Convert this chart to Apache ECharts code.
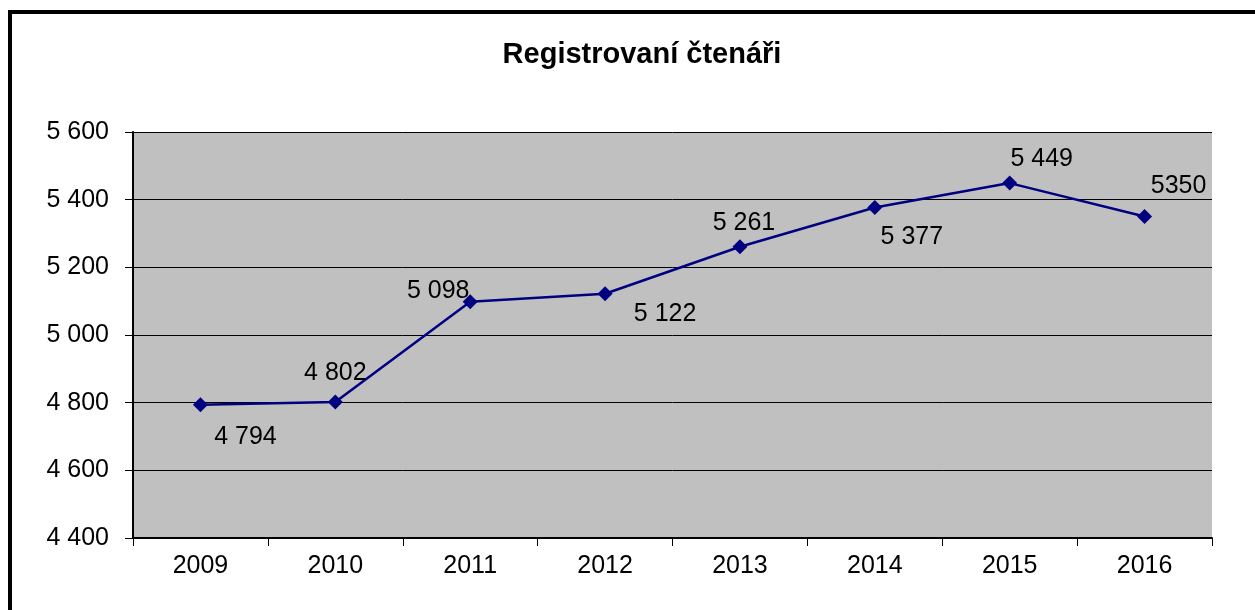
<!DOCTYPE html>
<html>
<head>
<meta charset="utf-8">
<script src="https://cdn.jsdelivr.net/npm/echarts@6/dist/echarts.min.js"></script>
<style>
  html, body { margin: 0; padding: 0; background: #fff; }
  #chart { width: 1255px; height: 610px; }
</style>
</head>
<body>
<div id="chart"></div>
<script>
// roky a počty čtenářů
const years = ["2009", "2010", "2011", "2012", "2013", "2014", "2015", "2016"]
const readers = [4794, 4802, 5098, 5122, 5261, 5377, 5449, 5350]
const labelTexts = ["4 794", "4 802", "5 098", "5 122", "5 261", "5 377", "5 449", "5350"]
// posun popisku od bodu [x, y]
const labelOffsets = [[45, 32], [0, -29], [-32, -11], [60, 20], [4, -24], [37, 30], [32, -24], [34, -30]]

const font = "Liberation Sans, Arial, sans-serif"

//mezery mezi tisíci
const fmt = v => {
  let s = String(v)
  return s.length > 3 ? s.slice(0, s.length - 3) + " " + s.slice(-3) : s
}

let seriesData = readers.map((v, idx) => ({
  value: v,
  label: {
    formatter: labelTexts[idx],
    offset: labelOffsets[idx]
  }
}))

let option = {
  animation: false,
  backgroundColor: "#ffffff",
  title: {
    text: "Registrovaní čtenáři",
    left: 637,
    textAlign: "center",
    top: 35,
    textStyle: {
      fontFamily: font,
      fontSize: 29,
      fontWeight: "bold",
      color: "#000"
    }
  },
  graphic: [
    {
      type: "rect",
      shape: { x: 10, y: 12, width: 1300, height: 700 },
      style: { fill: "none", stroke: "#000", lineWidth: 4 },
      silent: true
    }
  ],
  grid: {
    left: 133,
    right: 43,
    top: 132,
    bottom: 72,
    show: true,
    backgroundColor: "#c0c0c0",
    borderWidth: 0
  },
  xAxis: {
    type: "category",
    data: years,
    boundaryGap: true,
    axisLine: {
      lineStyle: { color: "#000", width: 2 }
    },
    axisTick: {
      show: true,
      alignWithLabel: false,
      length: 8,
      lineStyle: { color: "#000" }
    },
    axisLabel: {
      margin: 16,
      fontFamily: font,
      fontSize: 25,
      color: "#000"
    }
  },
  yAxis: {
    type: "value",
    min: 4400,
    max: 5600,
    interval: 200,
    axisLine: {
      show: true,
      lineStyle: { color: "#000", width: 2 }
    },
    axisTick: {
      show: true,
      length: 8,
      lineStyle: { color: "#000" }
    },
    axisLabel: {
      margin: 24,
      fontFamily: font,
      fontSize: 25,
      color: "#000",
      formatter: fmt
    },
    splitLine: {
      show: true,
      lineStyle: { color: "#000", width: 1 }
    }
  },
  series: [
    {
      type: "line",
      data: seriesData,
      symbol: "diamond",
      symbolSize: 15,
      showAllSymbol: true,
      lineStyle: { color: "#000080", width: 2.5 },
      itemStyle: { color: "#000080" },
      label: {
        show: true,
        position: "inside",
        fontFamily: font,
        fontSize: 25,
        color: "#000"
      }
    }
  ]
}

let chartEl = echarts.init(document.getElementById("chart"))
chartEl.setOption(option)
</script>
</body>
</html>
